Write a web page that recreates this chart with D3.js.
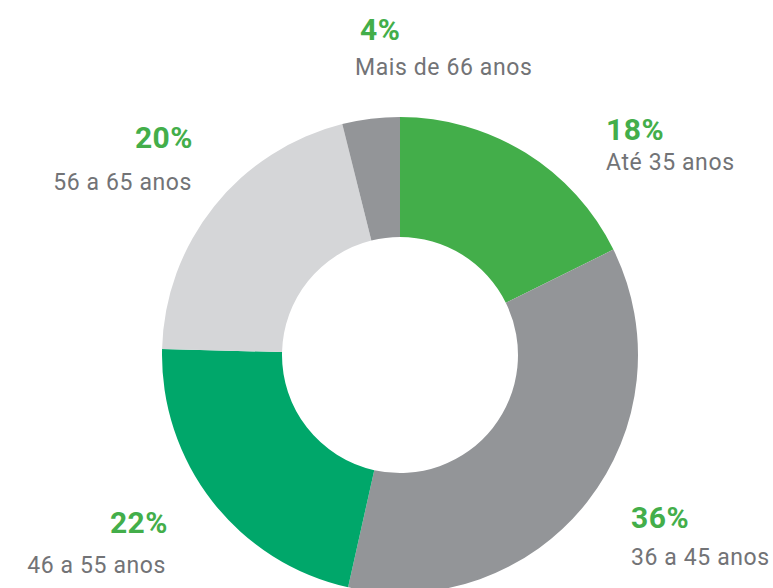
<!DOCTYPE html>
<html><head><meta charset="utf-8">
<script src="https://cdn.jsdelivr.net/npm/d3@7"></script>
<style>html,body{margin:0;padding:0;background:#fff;overflow:hidden}</style>
</head><body>
<svg id="c" width="773" height="588"></svg>
<script>
const categories = ["Até 35 anos", "36 a 45 anos", "46 a 55 anos", "56 a 65 anos", "Mais de 66 anos"];
const values = [17.7, 35.8, 21.9, 20.7, 3.9];
const percentLabels = ["18%", "36%", "22%", "20%", "4%"];
const colors = ["#43ae4a", "#939598", "#00a76a", "#d5d6d8", "#939598"];

// label layout (anchor x, percent baseline y, text baseline y, alignment)
const labelLayout = [
  {px: 606, tx: 606, py: 140, ty: 170, anchor: "start"},
  {px: 631, tx: 631, py: 528, ty: 565, anchor: "start"},
  {px: 168, tx: 166, py: 533, ty: 573, anchor: "end"},
  {px: 193, tx: 192, py: 148, ty: 190, anchor: "end"},
  {px: 360, tx: 355, py: 40, ty: 75, anchor: "start"}
];

const svg = d3.select("#c");
const cx = 400, cy = 355, R = 238, r = 118;
const pie = d3.pie().sort(null).value(d => d)(values);
const arc = d3.arc().innerRadius(r).outerRadius(R);
const g = svg.append("g").attr("transform", `translate(${cx},${cy})`);
g.selectAll("path").data(pie).join("path")
  .attr("d", arc).attr("fill", (d, i) => colors[i]);

const lab = svg.append("g");
categories.forEach((c, i) => {
  const L = labelLayout[i];
  lab.append("text").attr("x", L.px).attr("y", L.py).attr("text-anchor", L.anchor)
    .attr("font-family", "Roboto, sans-serif").attr("font-weight", "bold")
    .attr("font-size", 30).attr("letter-spacing", 0.5).attr("fill", "#43ae4a").text(percentLabels[i]);
  lab.append("text").attr("x", L.tx).attr("y", L.ty).attr("text-anchor", L.anchor)
    .attr("font-family", "Roboto, sans-serif")
    .attr("font-size", 23).attr("letter-spacing", 0.6).attr("fill", "#727376").text(c);
});
</script>
</body></html>
